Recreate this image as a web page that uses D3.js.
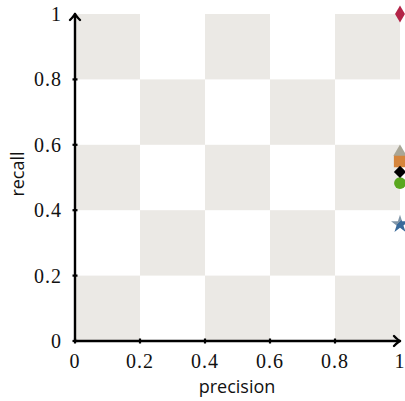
<!DOCTYPE html>
<html>
<head>
<meta charset="utf-8">
<script src="https://cdn.jsdelivr.net/npm/d3@7"></script>
<style>
  html, body { margin: 0; padding: 0; background: #fff; }
  svg { display: block; }
</style>
</head>
<body>
<svg id="chart" width="405" height="401"></svg>
<script>
// Results: precision / recall per method
const methods   = ["star", "circle", "square", "triangle", "diamond", "top"];
const precision = [1.0, 1.0, 1.0, 1.0, 1.0, 1.0];
const recall    = [0.357, 0.483, 0.550, 0.578, 0.517, 1.0];
const shapes    = ["star", "circle", "square", "triangle", "rhomb", "diamond"];
const colors    = ["url(#starFill)", "#5aa71f", "#d5853c", "#a9a696", "#000000", "#b32447"];
const tickValues = [0, 0.2, 0.4, 0.6, 0.8, 1];
const tickLabels = ["0", "0.2", "0.4", "0.6", "0.8", "1"];

const svg = d3.select("#chart");
const x = d3.scaleLinear().domain([0, 1]).range([75, 400]);
const y = d3.scaleLinear().domain([0, 1]).range([341, 14]);

// two-tone fill for the star marker
const grad = svg.append("defs").append("linearGradient").attr("id", "starFill")
  .attr("x1", "0").attr("y1", "0").attr("x2", "1").attr("y2", "1");
grad.append("stop").attr("offset", "0.45").attr("stop-color", "#8196a8");
grad.append("stop").attr("offset", "0.46").attr("stop-color", "#3a6a9a");

// checkerboard background
const cells = [];
for (let i = 0; i < 5; i++) for (let j = 0; j < 5; j++) {
  if ((i + j) % 2 === 0) cells.push({ x0: i * 0.2, y1: 1 - j * 0.2 });
}
svg.append("g").selectAll("rect").data(cells).join("rect")
  .attr("x", d => x(d.x0))
  .attr("y", d => y(d.y1))
  .attr("width", x(0.2) - x(0))
  .attr("height", y(0) - y(0.2))
  .attr("fill", "#ebe9e5");

// axes with arrow heads
const axisG = svg.append("g").attr("stroke", "#000").attr("fill", "none")
  .attr("stroke-width", 2.4).attr("stroke-linecap", "round").attr("stroke-linejoin", "round");
axisG.append("line").attr("x1", x(0)).attr("y1", y(0)).attr("x2", x(1)).attr("y2", y(0));
axisG.append("line").attr("x1", x(0)).attr("y1", y(0)).attr("x2", x(0)).attr("y2", y(1));
axisG.append("path").attr("d", `M${x(1) - 6},${y(0) - 5} Q${x(1) - 2},${y(0) - 1} ${x(1)},${y(0)} Q${x(1) - 2},${y(0) + 1} ${x(1) - 6},${y(0) + 5}`);
axisG.append("path").attr("d", `M${x(0) - 5},${y(1) + 6} Q${x(0) - 1},${y(1) + 2} ${x(0)},${y(1)} Q${x(0) + 1},${y(1) + 2} ${x(0) + 5},${y(1) + 6}`);

// tick marks
const tickG = svg.append("g").attr("stroke", "#000").attr("stroke-width", 2.2);
tickValues.slice(0, -1).forEach(v => {
  tickG.append("line").attr("x1", x(v)).attr("x2", x(v)).attr("y1", y(0) - 2.5).attr("y2", y(0) + 2.5);
  tickG.append("line").attr("y1", y(v)).attr("y2", y(v)).attr("x1", x(0) - 2.5).attr("x2", x(0) + 2.5);
});

// tick labels
const tickFont = "'Liberation Serif', serif";
svg.append("g").selectAll("text").data(tickValues).join("text")
  .attr("x", d => x(d)).attr("y", y(0) + 27)
  .attr("text-anchor", "middle")
  .attr("font-family", tickFont).attr("font-size", 20).attr("letter-spacing", 1)
  .attr("fill", "#111")
  .text((d, i) => tickLabels[i]);
svg.append("g").selectAll("text").data(tickValues).join("text")
  .attr("x", x(0) - 13).attr("y", d => y(d) + 7)
  .attr("text-anchor", "end")
  .attr("font-family", tickFont).attr("font-size", 20).attr("letter-spacing", 1)
  .attr("fill", "#111")
  .text((d, i) => tickLabels[i]);

// axis titles
svg.append("text").attr("x", 237).attr("y", 393).attr("text-anchor", "middle")
  .attr("font-family", "'Open Sans', sans-serif").attr("font-size", 18).attr("fill", "#111")
  .text("precision");
svg.append("text").attr("transform", `translate(24,174) rotate(-90)`).attr("text-anchor", "middle")
  .attr("font-family", "'Open Sans', sans-serif").attr("font-size", 18).attr("fill", "#111")
  .text("recall");

// markers
const symMap = {
  star: [d3.symbolStar, 100, 0],
  circle: [d3.symbolCircle, 110, 0],
  square: [d3.symbolSquare, 150, 0],
  triangle: [d3.symbolTriangle, 75, 0],
  rhomb: [d3.symbolSquare, 75, 45],
  diamond: [d3.symbolDiamond, 85, 0]
};
const pts = methods.map((m, i) => ({ m, p: precision[i], r: recall[i], s: shapes[i], c: colors[i] }));
svg.append("g").selectAll("path").data(pts).join("path")
  .attr("transform", d => `translate(${x(d.p)},${y(d.r)}) rotate(${symMap[d.s][2]})`)
  .attr("d", d => d3.symbol(symMap[d.s][0], symMap[d.s][1])())
  .attr("fill", d => d.c);
</script>
</body>
</html>
